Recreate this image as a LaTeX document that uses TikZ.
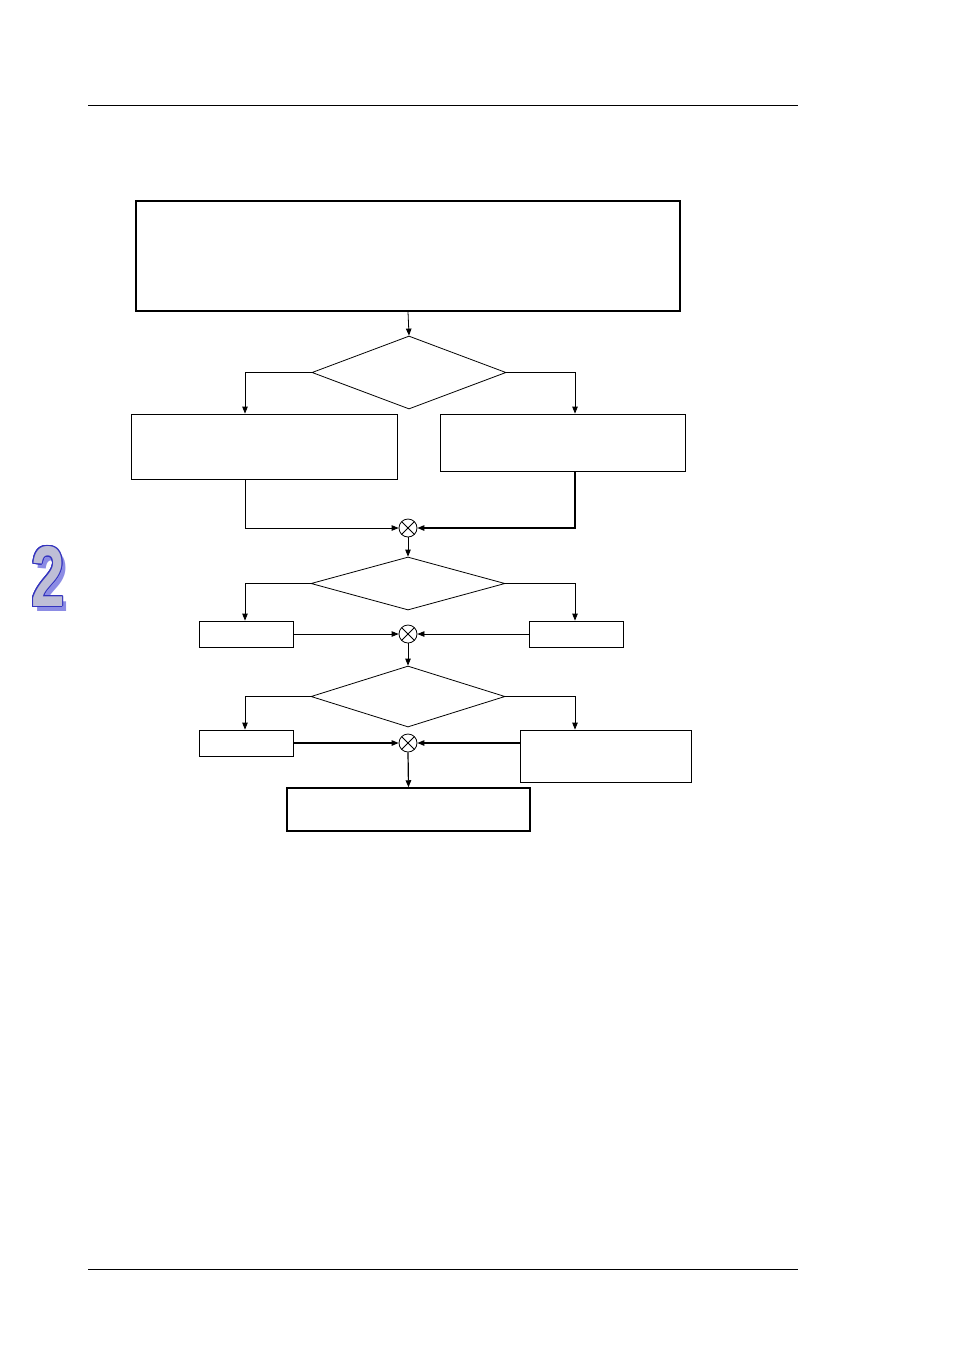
\documentclass[tikz,border=0pt]{standalone}
\usepackage{fontspec}
\setsansfont{Liberation Sans}
\usepackage[copies]{contour}
\usetikzlibrary{shapes.geometric,arrows.meta}

\definecolor{chapfill}{RGB}{190,190,214}
\definecolor{chapline}{RGB}{52,52,190}
\definecolor{chapshadow}{RGB}{140,140,228}

\tikzset{
  caixa/.style={draw,rectangle,inner sep=0pt,line width=0.8pt},
  caixagrossa/.style={caixa,line width=1.5pt},
  decisao/.style={draw,diamond,inner sep=0pt,line width=0.8pt},
  soma/.style={draw,circle,minimum size=18pt,inner sep=0pt,line width=0.8pt,
    path picture={\draw[line width=0.8pt]
      (path picture bounding box.south west) -- (path picture bounding box.north east)
      (path picture bounding box.north west) -- (path picture bounding box.south east);}},
  seta/.style={-{Triangle[length=7pt,width=5.5pt]},line width=0.8pt},
  regua/.style={line width=1pt}
}

\begin{document}
\begin{tikzpicture}[x=1pt,y=-1pt]
  \useasboundingbox (0,0) rectangle (954,1350);

  % page rules
  \coordinate (hl) at (88,105);  \coordinate (hr) at (798,105);
  \coordinate (fl) at (88,1269); \coordinate (fr) at (798,1269);
  \draw[regua] (hl) -- (hr);
  \draw[regua] (fl) -- (fr);

  % chapter mark
  \node[text=chapshadow,font=\sffamily\bfseries\fontsize{86}{86}\selectfont] (capsombra) at (52,581) {\scalebox{0.7}[1]{2}};
  \contourlength{1.2pt}
  \node[text=chapfill,font=\sffamily\bfseries\fontsize{86}{86}\selectfont] (cap) at (48,577) {\scalebox{0.7}[1]{\contour{chapline}{2}}};

  % columns for the branches
  \coordinate (esq) at (245,0);
  \coordinate (dir) at (575,0);

  % blocks
  \node[caixagrossa,minimum width=544pt,minimum height=110pt] (inicio) at (408,256) {};
  \node[decisao,minimum width=194pt,minimum height=73pt] (dec1) at (409,372.5) {};
  \node[caixa,minimum width=266pt,minimum height=65pt] (ramo1a) at (264,446.5) {};
  \node[caixa,minimum width=245pt,minimum height=57pt] (ramo1b) at (562.5,442.5) {};
  \node[soma] (soma1) at (408,528) {};

  \node[decisao,minimum width=194pt,minimum height=53pt] (dec2) at (408,583.5) {};
  \node[caixa,minimum width=94pt,minimum height=26pt] (ramo2a) at (246,634) {};
  \node[caixa,minimum width=94pt,minimum height=26pt] (ramo2b) at (576,634) {};
  \node[soma] (soma2) at (408,634) {};

  \node[decisao,minimum width=194pt,minimum height=61pt] (dec3) at (408,696.5) {};
  \node[caixa,minimum width=94pt,minimum height=26pt] (ramo3a) at (246,743) {};
  \node[caixa,minimum width=171pt,minimum height=52pt] (ramo3b) at (605.5,756) {};
  \node[soma] (soma3) at (408,743) {};
  \node[caixagrossa,minimum width=243pt,minimum height=43pt] (fim) at (408.5,809.5) {};

  % connectors
  \draw[seta] (inicio.south) -- (dec1.north);
  \draw[seta] (dec1.west) -| (esq |- ramo1a.north);
  \draw[seta] (dec1.east) -| (dir |- ramo1b.north);
  \draw[seta] (esq |- ramo1a.south) |- (soma1.west);
  \draw[seta,line width=1.2pt] (dir |- ramo1b.south) |- (soma1.east);
  \draw[seta] (soma1.south) -- (dec2.north);

  \draw[seta] (dec2.west) -| (esq |- ramo2a.north);
  \draw[seta] (dec2.east) -| (dir |- ramo2b.north);
  \draw[seta] (ramo2a.east) -- (soma2.west);
  \draw[seta] (ramo2b.west) -- (soma2.east);
  \draw[seta] (soma2.south) -- (dec3.north);

  \draw[seta] (dec3.west) -| (esq |- ramo3a.north);
  \draw[seta] (dec3.east) -| (dir |- ramo3b.north);
  \draw[seta,line width=1.2pt] (ramo3a.east) -- (soma3.west);
  \draw[seta,line width=1.2pt] (ramo3b.west |- soma3) -- (soma3.east);
  \draw[seta,line width=1.2pt] (soma3.south) -- (fim.north);
\end{tikzpicture}
\end{document}
